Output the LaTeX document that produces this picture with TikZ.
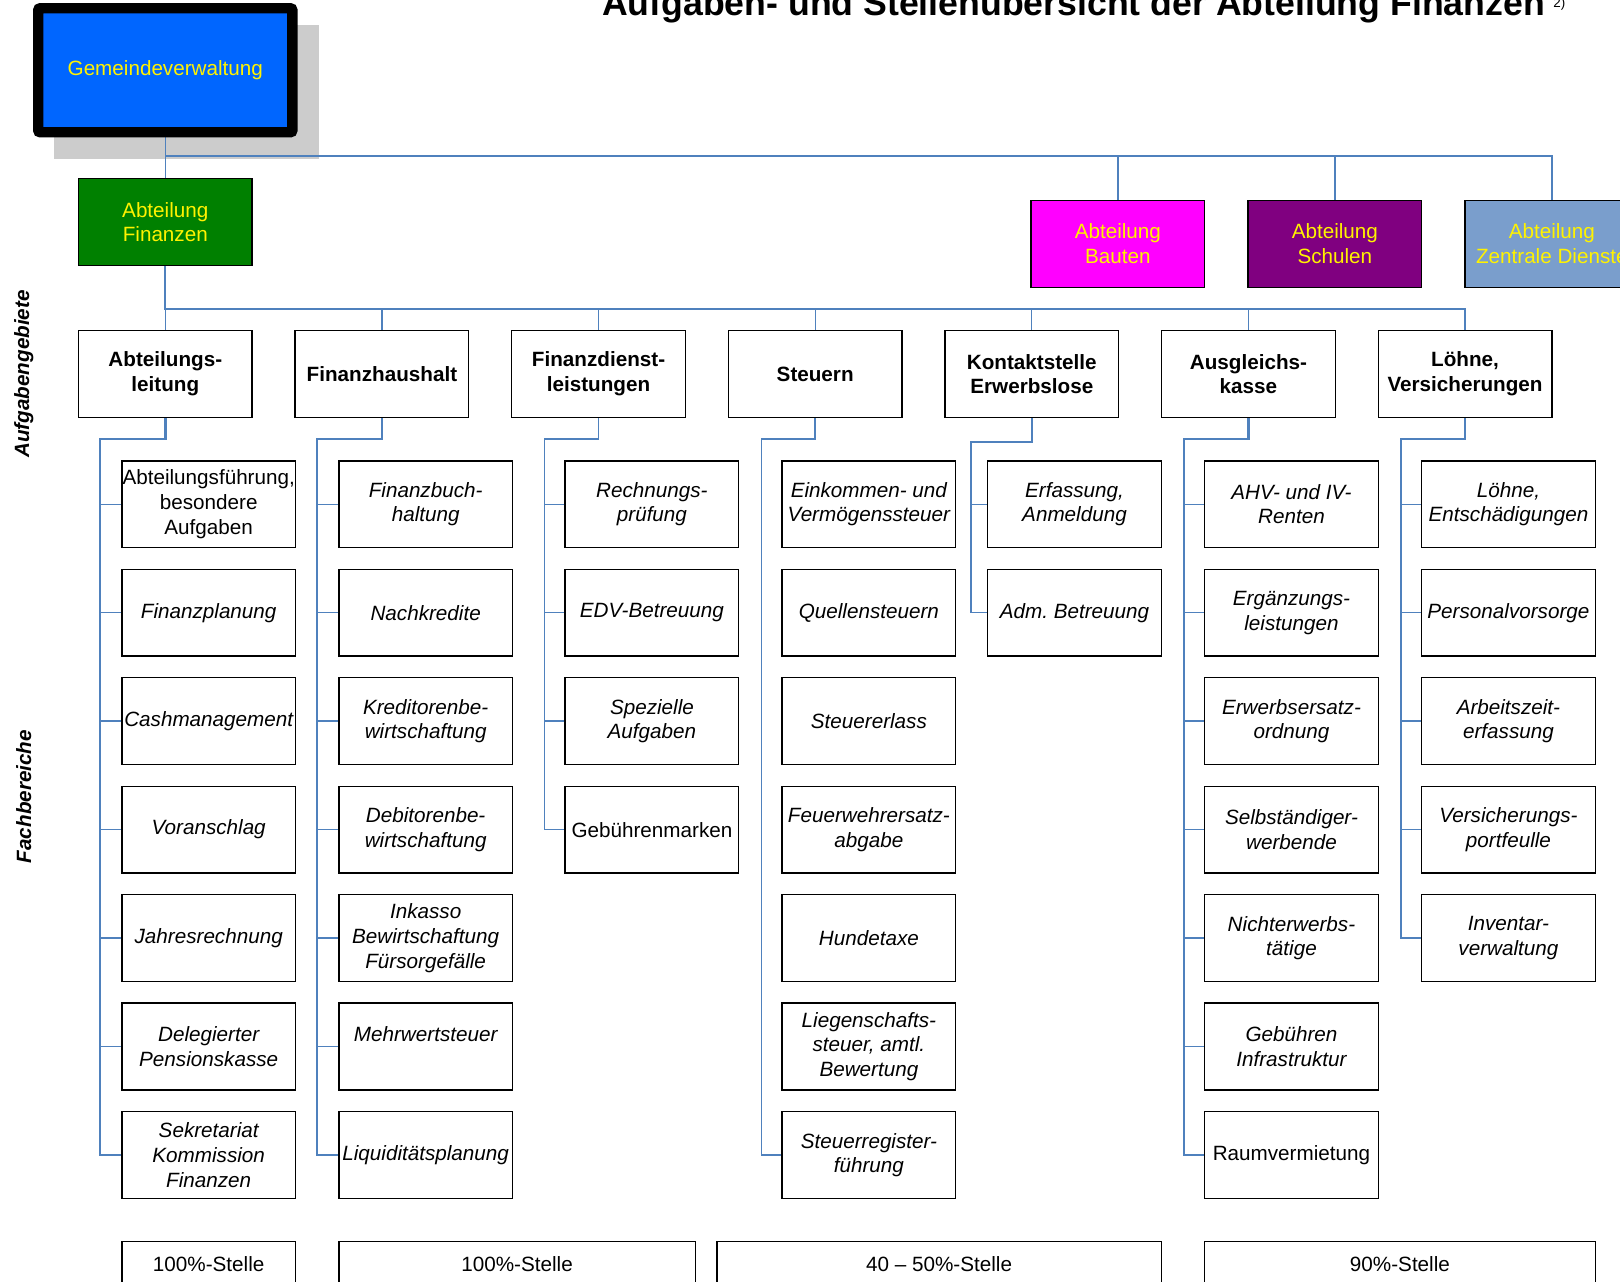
\documentclass[tikz,border=0pt]{standalone}
\usepackage{fontspec}
\setmainfont{Liberation Sans}
\usetikzlibrary{positioning,backgrounds}
\definecolor{linie}{RGB}{79,129,189}
\definecolor{gvblau}{RGB}{0,102,255}
\definecolor{fgruen}{RGB}{0,128,0}
\definecolor{bmagenta}{RGB}{255,0,255}
\definecolor{slila}{RGB}{128,0,128}
\definecolor{zblau}{RGB}{122,158,204}
\definecolor{schatten}{RGB}{204,204,204}

\begin{document}
\begin{tikzpicture}[x=1pt, y=-1pt,
    txt/.style={font=\fontsize{20}{24}\selectfont},
    box/.style={txt, draw, line width=1.4pt, fill=white, minimum width=168pt, minimum height=84pt, inner sep=0pt, align=center},
    kopf/.style={box, font=\fontsize{20}{24}\selectfont\bfseries},
    fach/.style={box, font=\fontsize{20}{24}\selectfont\itshape},
    abt/.style={box, text=yellow},
    stelle/.style={txt, draw, line width=1.4pt, anchor=north, inner sep=0pt, text height=29pt, text depth=40pt},
    ast/.style={draw=linie, line width=1.3pt},
    stamm/.style={draw=linie, line width=2.4pt},
    duenn/.style={draw=linie, line width=1.5pt}]
    \useasboundingbox (0,0) rectangle (1568,1240);
    \clip (0,0) rectangle (1568,1240);
    % title
    \node[font=\fontsize{34.5}{40}\selectfont\bfseries, anchor=base] (titel) at (1039,15) {Aufgaben- und Stellenübersicht der Abteilung Finanzen};
    \node[font=\fontsize{13}{15}\selectfont, anchor=base west] (fussnote) at (1500,7) {2)};
    \node[font=\fontsize{20}{24}\selectfont\bfseries\itshape, rotate=90] (aufgaben) at (23,362) {Aufgabengebiete};
    \node[font=\fontsize{20}{24}\selectfont\bfseries\itshape, rotate=90] (fachber) at (23,771) {Fachbereiche};
    % departments
    \node[abt, fill=gvblau, draw=black, line width=10pt, rounded corners=2pt, minimum width=246pt, minimum height=120pt] (gv) at (160,68) {Gemeindeverwaltung};
    \node[abt, fill=fgruen] (fin) at (160,215) {Abteilung\\Finanzen};
    \node[abt, fill=bmagenta] (bau) at (1082,236) {Abteilung\\Bauten};
    \node[abt, fill=slila] (schul) at (1292,236) {Abteilung\\Schulen};
    \node[abt, fill=zblau] (zd) at (1502,236) {Abteilung\\Zentrale Dienste};
    % Aufgabengebiete
    \foreach \wort [count=\i] in {Abteilungs-\\leitung, Finanzhaushalt, Finanzdienst-\\leistungen, Steuern, Kontaktstelle\\Erwerbslose, Ausgleichs-\\kasse, {Löhne,\\Versicherungen}}
        \node[kopf] (k\i) at ({160+209.67*(\i-1)},362) {\wort};
    % Abteilungsleitung
    \foreach \wort [count=\r] in {{\upshape Abteilungsführung,\\\upshape besondere\\\upshape Aufgaben}, Finanzplanung, Cashmanagement, Voranschlag, Jahresrechnung, Delegierter\\Pensionskasse, Sekretariat\\Kommission\\Finanzen}
        \node[fach] (f1-\r) at (202,{383+105*\r}) {\wort};
    % Finanzhaushalt
    \foreach \wort [count=\r] in {Finanzbuch-\\haltung, Nachkredite, Kreditorenbe-\\wirtschaftung, Debitorenbe-\\wirtschaftung, Inkasso\\Bewirtschaftung\\Fürsorgefälle, Mehrwertsteuer\\\mbox{}, Liquiditätsplanung}
        \node[fach] (f2-\r) at (412,{383+105*\r}) {\wort};
    % Finanzdienstleistungen
    \foreach \wort [count=\r] in {Rechnungs-\\prüfung, EDV-Betreuung, Spezielle\\Aufgaben, {\upshape Gebührenmarken}}
        \node[fach] (f3-\r) at (631,{383+105*\r}) {\wort};
    % Steuern
    \foreach \wort [count=\r] in {Einkommen- und\\Vermögenssteuer, Quellensteuern, Steuererlass, Feuerwehrersatz-\\abgabe, Hundetaxe, {Liegenschafts-\\steuer, amtl.\\Bewertung}, Steuerregister-\\führung}
        \node[fach] (f4-\r) at (841,{383+105*\r}) {\wort};
    % Kontaktstelle
    \foreach \wort [count=\r] in {{Erfassung,\\Anmeldung}, Adm.\ Betreuung}
        \node[fach] (f5-\r) at (1040,{383+105*\r}) {\wort};
    % Ausgleichskasse
    \foreach \wort [count=\r] in {AHV- und IV-\\Renten, Ergänzungs-\\leistungen, Erwerbsersatz-\\ordnung, Selbständiger-\\werbende, Nichterwerbs-\\tätige, Gebühren\\Infrastruktur, {\upshape Raumvermietung}}
        \node[fach] (f6-\r) at (1250,{383+105*\r}) {\wort};
    % Loehne
    \foreach \wort [count=\r] in {{Löhne,\\Entschädigungen}, Personalvorsorge, Arbeitszeit-\\erfassung, Versicherungs-\\portfeulle, Inventar-\\verwaltung}
        \node[fach] (f7-\r) at (1460,{383+105*\r}) {\wort};
    % Stellen
    \node[stelle, minimum width=168pt] (s1) at (202,1201) {100\%-Stelle};
    \node[stelle, minimum width=345pt] (s2) at (500.5,1201) {100\%-Stelle};
    \node[stelle, minimum width=430pt] (s3) at (909,1201) {40 – 50\%-Stelle};
    \node[stelle, minimum width=378pt] (s4) at (1355,1201) {90\%-Stelle};
    % connectors
    \coordinate (bus1) at (160,151);
    \coordinate (bus2) at (160,299);
    \begin{scope}[on background layer]
        \fill[schatten] (52,24) rectangle (309,154);
        \path[duenn] (gv.south) -- (fin.north);
        \foreach \n in {bau,schul,zd}
            \path[duenn] (bus1) -| (\n.north);
        \path[stamm, line width=2pt] (fin.south) -- (bus2) -- (bus2 -| k7.north);
        \foreach \i in {1,...,7}
            \path[ast] (bus2) -| (k\i.north);
    \end{scope}
    \coordinate (e1) at (97,425);
    \coordinate (e2) at (307,425);
    \coordinate (e3) at (527,425);
    \coordinate (e4) at (737,425);
    \coordinate (e5) at (940,428);
    \coordinate (e6) at (1146,425);
    \coordinate (e7) at (1356,425);
    \path[stamm] (k1.south) |- (e1) |- (f1-7.west);
    \path[stamm] (k2.south) |- (e2) |- (f2-7.west);
    \path[duenn] (k3.south) |- (e3) |- (f3-4.west);
    \path[duenn] (k4.south) |- (e4) |- (f4-7.west);
    \path[duenn] (k5.south) |- (e5) |- (f5-2.west);
    \path[stamm] (k6.south) |- (e6) |- (f6-7.west);
    \path[stamm] (k7.south) |- (e7) |- (f7-5.west);
    \foreach \r in {1,...,6}
    {
        \path[ast] (f1-\r.west) -- (f1-\r.west -| e1);
        \path[ast] (f2-\r.west) -- (f2-\r.west -| e2);
        \path[ast] (f6-\r.west) -- (f6-\r.west -| e6);
    }
    \foreach \r in {1,2,3}
        \path[ast] (f3-\r.west) -- (f3-\r.west -| e3);
    \path[ast] (f5-1.west) -- (f5-1.west -| e5);
    \foreach \r in {1,...,4}
        \path[ast] (f7-\r.west) -- (f7-\r.west -| e7);
\end{tikzpicture}
\end{document}
